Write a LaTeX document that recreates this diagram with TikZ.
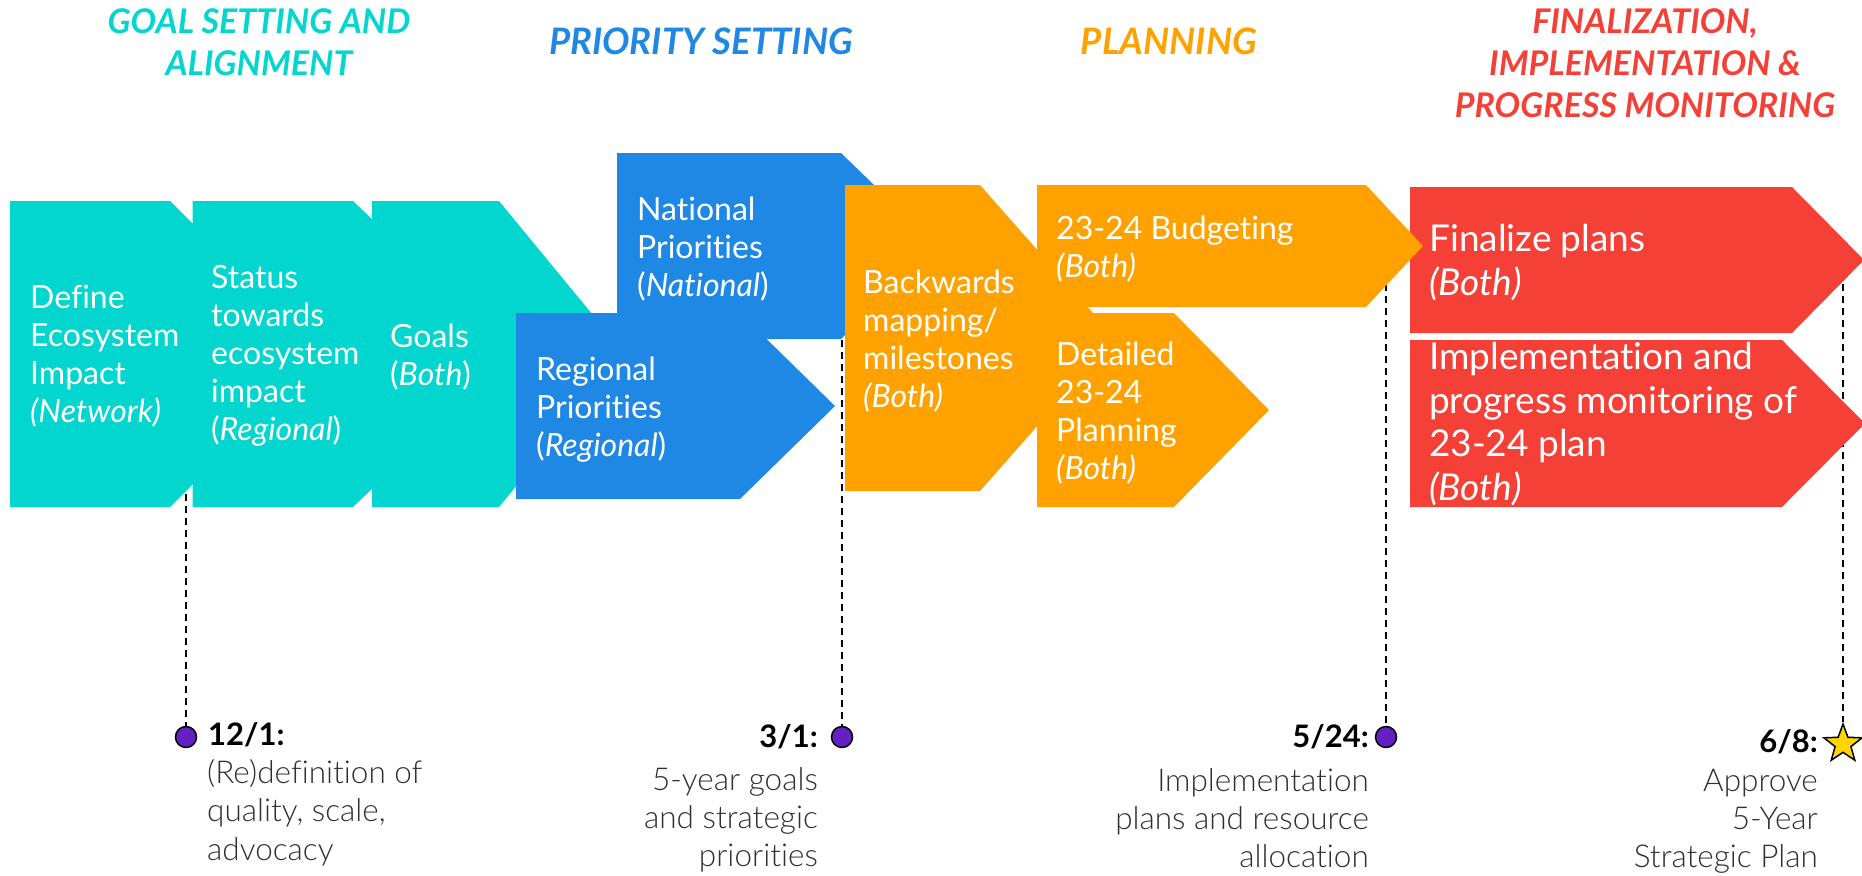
\documentclass[tikz,border=0pt]{standalone}
\usepackage{fontspec}
\setmainfont{Lato}[Ligatures=NoCommon]
\newfontfamily\lightfont{Lato Light}[Ligatures=NoCommon]
\usetikzlibrary{shapes.geometric}
\definecolor{cteal}{RGB}{3,213,207}
\definecolor{cblue}{RGB}{31,136,229}
\definecolor{corange}{RGB}{255,162,0}
\definecolor{cred}{RGB}{244,64,54}
\definecolor{cpurple}{RGB}{100,32,192}
\definecolor{cstar}{RGB}{255,213,0}
\definecolor{cgray}{RGB}{48,48,48}
\newcommand\arrowshape[6]{\fill[#1] (#2,#3) -- (#5,#3) -- (#6,{(#3+#4)/2}) -- (#5,#4) -- (#2,#4) -- cycle;}
\tikzset{
  boxtext/.style={anchor=base west, inner sep=0pt, align=left, text=white, font=\fontsize{32}{38}\selectfont},
  redtext/.style={anchor=base west, inner sep=0pt, align=left, text=white, font=\fontsize{37}{43.5}\selectfont},
  heading/.style={anchor=base, inner sep=0pt, align=center, font=\fontsize{34}{42}\selectfont\bfseries\itshape},
  bigheading/.style={anchor=base, inner sep=0pt, align=center, font=\fontsize{36.5}{42}\selectfont\bfseries\itshape},
  datel/.style={anchor=base west, inner sep=0pt, font=\fontsize{31}{38}\selectfont\bfseries},
  dater/.style={anchor=base east, inner sep=0pt, font=\fontsize{31}{38}\selectfont\bfseries},
  descl/.style={anchor=base west, inner sep=0pt, align=left, text=cgray, font=\fontsize{31.5}{38.5}\selectfont\lightfont},
  descr/.style={anchor=base east, inner sep=0pt, align=right, text=cgray, font=\fontsize{31.5}{38}\selectfont\lightfont},
  milestone/.style={circle, draw=black, line width=1.5pt, fill=cpurple, minimum size=21pt, inner sep=0pt},
  finalstar/.style={star, star points=5, star point ratio=2.4, draw=black, line width=1.5pt, fill=cstar, minimum size=40pt, inner sep=0pt},
  dashline/.style={draw=black, line width=2pt, dash pattern=on 7pt off 5pt}
}
\begin{document}
\begin{tikzpicture}[x=1pt,y=-1pt]
\useasboundingbox (0,0) rectangle (1862,875);
% headings (positions are last-line baselines)
\node[heading, text=cteal] (h1) at (259,75) {GOAL SETTING AND\\ALIGNMENT};
\node[bigheading, text=cblue] (h2) at (701,55) {PRIORITY SETTING};
\node[bigheading, text=corange] (h3) at (1169,55) {PLANNING};
\node[heading, text=cred] (h4) at (1645,117) {FINALIZATION,\\IMPLEMENTATION \&\\PROGRESS MONITORING};
% milestone markers
\node[milestone] (m1) at (186,737) {};
\node[milestone] (m2) at (842,737) {};
\node[milestone] (m3) at (1386,737) {};
\node[finalstar] (m4) at (1843,744) {};
\coordinate (t1) at (186,482);
\coordinate (t2) at (842,340);
\coordinate (t3) at (1386,260);
\coordinate (t4) at (1843,260);
\draw[dashline] (t1) -- (m1.north);
\draw[dashline] (t2) -- (m2.north);
\draw[dashline] (t3) -- (m3.north);
\draw[dashline] (t4) -- (m4.north);
% teal chevrons
\arrowshape{cteal}{10}{201}{507}{170}{323}
\arrowshape{cteal}{192.5}{201}{507}{353}{513}
\arrowshape{cteal}{372}{201}{507}{499}{625}
% blue
\arrowshape{cblue}{516}{313}{499}{740}{835}
\arrowshape{cblue}{617}{153}{339}{841}{937}
% orange backwards
\arrowshape{corange}{845}{185}{491}{980}{1115}
% red
\arrowshape{cred}{1410}{187}{333}{1792}{1864}
\arrowshape{cred}{1410}{340}{507}{1782}{1865}
% orange budgeting and detailed
\arrowshape{corange}{1037}{185}{307}{1366}{1423}
\arrowshape{corange}{1037}{313}{507}{1174}{1269}
% box texts (positions are last-line baselines)
\node[boxtext] (a) at (30,422) {Define\\Ecosystem\\Impact\\\textit{(Network)}};
\node[boxtext] (b) at (211,440) {Status\\towards\\ecosystem\\impact\\(\textit{Regional})};
\node[boxtext] (c) at (390,385) {Goals\\(\textit{Both})};
\node[boxtext] (d) at (637,296) {National\\Priorities\\(\textit{National})};
\node[boxtext] (e) at (536,456) {Regional\\Priorities\\(\textit{Regional})};
\node[boxtext] (f) at (863,407) {Backwards\\mapping/\\milestones\\\textit{(Both)}};
\node[boxtext] (g) at (1056,277) {23-24 Budgeting\\\textit{(Both)}};
\node[boxtext] (h) at (1056,479) {Detailed\\23-24\\Planning\\\textit{(Both)}};
\node[redtext] (i) at (1429,295) {Finalize plans\\\textit{(Both)}};
\node[redtext] (j) at (1429,500) {Implementation and\\progress monitoring of\\23-24 plan\\\textit{(Both)}};
% dates and descriptions
\node[datel] (d1) at (208,745) {12/1:};
\node[descl] (s1) at (207,860) {(Re)definition of\\quality, scale,\\advocacy};
\node[dater] (d2) at (818,747) {3/1:};
\node[descr] (s2) at (818,866) {5-year goals\\and strategic\\priorities};
\node[dater] (d3) at (1369,747) {5/24:};
\node[descr] (s3) at (1369,867) {Implementation\\plans and resource\\allocation};
\node[dater] (d4) at (1818,752) {6/8:};
\node[descr] (s4) at (1818,867) {Approve\\5-Year\\Strategic Plan};
\end{tikzpicture}
\end{document}
